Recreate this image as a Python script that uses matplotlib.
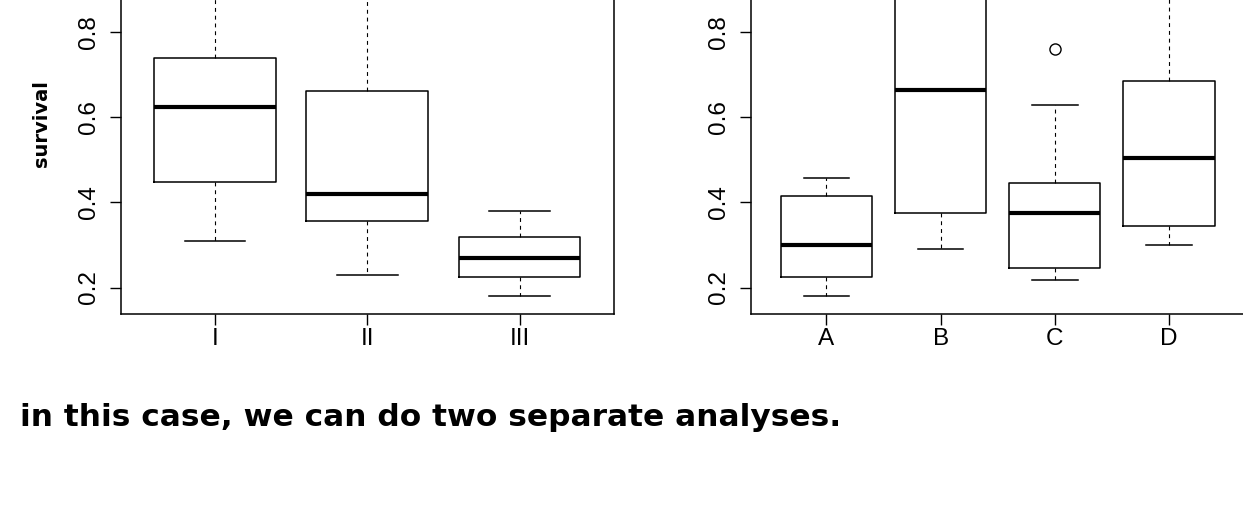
import matplotlib
matplotlib.use("Agg")
import matplotlib.pyplot as plt

# ---- data (boxes beyond the top edge are cropped) ----
groups_left = ["I", "II", "III"]
left_whislo = [0.310, 0.229, 0.180]
left_q1 = [0.448, 0.356, 0.225]
left_med = [0.624, 0.420, 0.270]
left_q3 = [0.739, 0.660, 0.319]
left_whishi = [0.96, 0.98, 0.379]

groups_right = ["A", "B", "C", "D"]
right_whislo = [0.180, 0.290, 0.218, 0.300]
right_q1 = [0.225, 0.375, 0.245, 0.345]
right_med = [0.300, 0.664, 0.375, 0.504]
right_q3 = [0.414, 0.92, 0.444, 0.685]
right_whishi = [0.458, 1.10, 0.629, 0.95]
right_fliers = [[], [], [0.759], []]

yticks = [0.2, 0.4, 0.6, 0.8]
y_label = "survival"
note = "in this case, we can do two separate analyses."

W, H = 1243, 530
plt.rcParams['font.family'] = ['Liberation Sans', 'DejaVu Sans']


def make_stats(labels, lo, q1, med, q3, hi, fliers=None):
    stats = []
    for i, lab in enumerate(labels):
        stats.append({
            'label': lab, 'whislo': lo[i], 'q1': q1[i], 'med': med[i],
            'q3': q3[i], 'whishi': hi[i],
            'fliers': fliers[i] if fliers else [],
        })
    return stats


def draw_panel(ax, stats, n):
    ax.bxp(stats, positions=range(1, n + 1), widths=0.8, showfliers=True,
           boxprops=dict(color='black', linewidth=1.1),
           medianprops=dict(color='black', linewidth=3.0, solid_capstyle='butt'),
           whiskerprops=dict(color='black', linewidth=0.8, linestyle=(0, (3.5, 3.5))),
           capprops=dict(color='black', linewidth=1.1),
           capwidths=0.4,
           flierprops=dict(marker='o', markersize=8, markerfacecolor='none',
                           markeredgecolor='black', markeredgewidth=1.0))
    # R style: 4% padding around 0.5 .. n+0.5
    ax.set_xlim(0.5 - 0.04 * n, n + 0.5 + 0.04 * n)
    ax.set_ylim(0.138, 1.0)
    ax.set_yticks(yticks)
    ax.set_yticklabels([f"{t:.1f}" for t in yticks], rotation=90, va='center')
    ax.tick_params(axis='y', length=7.9, width=1.0, pad=7, labelsize=17.5)
    ax.tick_params(axis='x', length=7.9, width=1.0, pad=2, labelsize=17.5)
    for s in ax.spines.values():
        s.set_linewidth(1.1)


fig = plt.figure(figsize=(W / 100, H / 100), dpi=100)
bottom = 216 / H
height = (1.0 - 0.138) * 426.5 / H
width = 493.4 / W

ax1 = fig.add_axes([120.6 / W, bottom, width, height])
draw_panel(ax1, make_stats(groups_left, left_whislo, left_q1, left_med,
                           left_q3, left_whishi), 3)

ax2 = fig.add_axes([751 / W, bottom, width, height])
draw_panel(ax2, make_stats(groups_right, right_whislo, right_q1, right_med,
                           right_q3, right_whishi, right_fliers), 4)

# handwritten-looking annotations
fig.text(42 / W, 1 - 124 / H, y_label, rotation=90, ha='center', va='center',
         fontsize=14, fontweight='bold', family='DejaVu Sans')
fig.text(20 / W, 1 - 426 / H, note, ha='left', va='baseline',
         fontsize=22.5, fontweight='bold', family='DejaVu Sans')

fig.savefig('out.png', dpi=100)
